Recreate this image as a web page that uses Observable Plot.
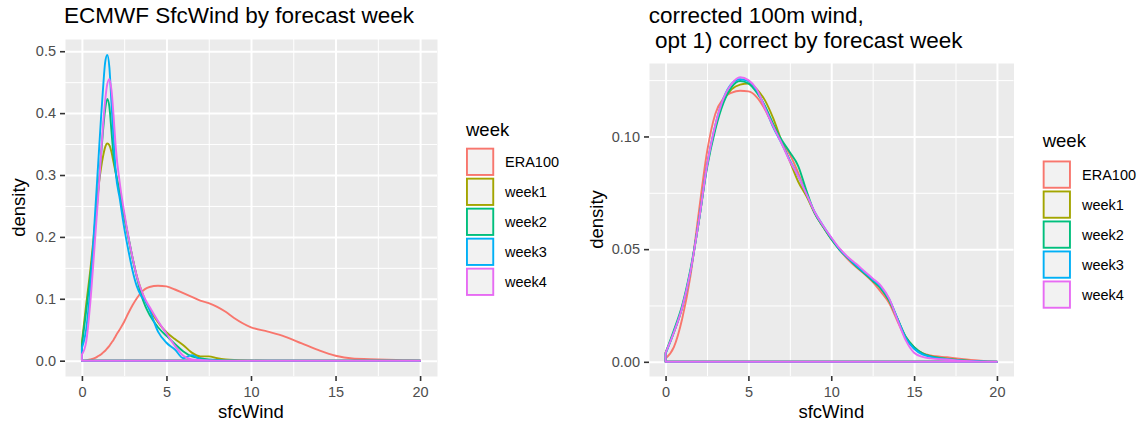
<!DOCTYPE html>
<html><head><meta charset="utf-8">
<script src="https://cdn.jsdelivr.net/npm/d3@7"></script>
<script src="https://cdn.jsdelivr.net/npm/@observablehq/plot@0.6"></script>
<style>
html,body{margin:0;padding:0;background:#fff;}
#wrap{position:relative;width:1138px;height:424px;overflow:hidden;font-family:"Liberation Sans",Arial,sans-serif;}
#wrap svg{position:absolute;top:0;}
</style></head><body><div id="wrap"></div>
<script>
const weeks = ["ERA100", "week1", "week2", "week3", "week4"];
const colors = ["#F8766D", "#A3A500", "#00BF7D", "#00B0F6", "#E76BF3"];

// Left panel: ECMWF SfcWind by forecast week
const leftTitle = "ECMWF SfcWind by forecast week";
const leftX = [0,0.25,0.5,0.75,1,1.125,1.25,1.375,1.5,1.625,1.75,1.875,2,2.25,2.5,2.75,3,3.25,3.5,3.75,4,4.5,5,5.5,6,6.5,7,7.5,8,8.5,9,10,11,12,13,14,15,16,17,18,19,20];
const leftERA100 = [0,0.0005,0.002,0.004,0.008,0.010,0.013,0.016,0.02,0.024,0.029,0.034,0.04,0.051,0.063,0.077,0.09,0.101,0.11,0.116,0.119,0.121,0.12,0.115,0.109,0.103,0.097,0.093,0.087,0.079,0.069,0.054,0.047,0.039,0.028,0.017,0.008,0.0035,0.0025,0.0015,0.0008,0.0003];
const leftWeek1 = [0.03,0.09,0.147,0.215,0.285,0.31,0.33,0.345,0.351,0.348,0.337,0.32,0.303,0.27,0.232,0.198,0.165,0.136,0.115,0.097,0.084,0.062,0.046,0.035,0.025,0.013,0.007,0.007,0.004,0.002,0.001,0.0003,0,0,0,0,0,0,0,0,0,0];
const leftWeek2 = [0.025,0.08,0.138,0.205,0.285,0.33,0.372,0.406,0.423,0.41,0.37,0.33,0.305,0.27,0.235,0.2,0.165,0.135,0.107,0.088,0.074,0.054,0.04,0.027,0.015,0.007,0.004,0.002,0.001,0.0005,0.0002,0,0,0,0,0,0,0,0,0,0,0];
const leftWeek3 = [0.02,0.05,0.12,0.225,0.335,0.39,0.44,0.482,0.494,0.474,0.415,0.357,0.305,0.26,0.215,0.178,0.145,0.12,0.105,0.096,0.082,0.047,0.029,0.018,0.004,0.009,0.002,0.0007,0.0003,0.0001,0,0,0,0,0,0,0,0,0,0,0,0];
const leftWeek4 = [0.01,0.03,0.095,0.185,0.28,0.33,0.38,0.42,0.447,0.455,0.437,0.395,0.345,0.285,0.24,0.2,0.166,0.136,0.115,0.099,0.087,0.064,0.044,0.024,0.008,0.002,0.001,0.0004,0.0001,0,0,0,0,0,0,0,0,0,0,0,0,0];
const leftYTicks = [0, 0.1, 0.2, 0.3, 0.4, 0.5];
const leftYMinor = [0.05, 0.15, 0.25, 0.35, 0.45];

// Right panel: corrected 100m wind
const rightTitle = ["corrected 100m wind,", " opt 1) correct by forecast week"];
const rightX = [0,0.5,1,1.5,2,2.5,3,3.5,4,4.5,5,5.5,6,6.5,7,7.5,8,8.5,9,9.5,10,10.5,11,11.5,12,12.5,13,13.5,14,14.5,15,15.5,16,17,18,19,20];
const rightERA100 = [0.0015,0.0065,0.019,0.038,0.066,0.093,0.11,0.117,0.1195,0.1203,0.12,0.1175,0.112,0.1045,0.098,0.092,0.084,0.0745,0.066,0.06,0.0545,0.0497,0.0455,0.042,0.039,0.0355,0.031,0.026,0.018,0.0105,0.006,0.0038,0.0028,0.002,0.0012,0.0005,0.0001];
const rightWeek1 = [0.004,0.013,0.024,0.04,0.062,0.087,0.104,0.116,0.121,0.123,0.1235,0.121,0.116,0.108,0.098,0.089,0.08,0.0735,0.066,0.06,0.0545,0.05,0.0462,0.0425,0.0393,0.036,0.0325,0.027,0.019,0.011,0.0065,0.0038,0.0025,0.0014,0.0006,0.0002,0];
const rightWeek2 = [0.004,0.014,0.025,0.041,0.062,0.086,0.103,0.115,0.122,0.1246,0.1235,0.1195,0.1135,0.1055,0.0985,0.093,0.087,0.076,0.066,0.06,0.0545,0.0497,0.046,0.0425,0.0393,0.036,0.0325,0.0272,0.019,0.011,0.0065,0.0038,0.0024,0.0013,0.0006,0.0002,0];
const rightWeek3 = [0.0035,0.013,0.024,0.04,0.062,0.087,0.105,0.117,0.1235,0.1254,0.1245,0.1205,0.113,0.104,0.097,0.0895,0.0825,0.0745,0.0665,0.0605,0.055,0.05,0.0462,0.0428,0.0397,0.0365,0.0332,0.0278,0.0192,0.0105,0.0058,0.0033,0.0022,0.0012,0.0005,0.0002,0];
const rightWeek4 = [0.004,0.013,0.024,0.04,0.062,0.087,0.105,0.117,0.1235,0.1263,0.125,0.121,0.1125,0.1045,0.097,0.089,0.0825,0.0745,0.0665,0.0605,0.0552,0.0503,0.0465,0.0435,0.0402,0.037,0.0337,0.028,0.0185,0.0095,0.004,0.0022,0.0015,0.001,0.0004,0.0001,0];
const rightYTicks = [0, 0.05, 0.1];
const rightYMinor = [0.025, 0.075, 0.125];

const xTicks = [0, 5, 10, 15, 20];
const xMinor = [2.5, 7.5, 12.5, 17.5];
const xLabel = "sfcWind";
const yLabel = "density";
const legendTitle = "week";

const FONT = '"Liberation Sans", Arial, sans-serif';

function toRows(xs, series) {
  const rows = [];
  weeks.forEach((w, i) => xs.forEach((x, j) => rows.push({week: w, x, d: series[i][j]})));
  return rows;
}

function panel({data, width, marginLeft, marginRight, marginTop, marginBottom, yDomain, yTicks, yMinor, yFormat}) {
  return Plot.plot({
    width, height: 424, marginLeft, marginRight, marginTop, marginBottom,
    style: {background: "transparent", fontFamily: FONT, overflow: "visible"},
    x: {domain: [-1, 21]},
    y: {domain: yDomain},
    color: {domain: weeks, range: colors},
    marks: [
      Plot.frame({fill: "#EBEBEB", stroke: "none"}),
      Plot.ruleX(xMinor, {stroke: "white", strokeWidth: 1}),
      Plot.ruleY(yMinor, {stroke: "white", strokeWidth: 1}),
      Plot.ruleX(xTicks, {stroke: "white", strokeWidth: 2}),
      Plot.ruleY(yTicks, {stroke: "white", strokeWidth: 2}),
      Plot.areaY(data, {x: "x", y1: 0, y2: "d", z: "week", stroke: "week", fill: "none",
        strokeWidth: 1.9, curve: "monotone-x", strokeLinejoin: "round"}),
      Plot.axisX(xTicks, {tickSize: 5, tickPadding: 5.5, fontSize: 14.5, fill: "#4D4D4D",
        stroke: "#333333", strokeWidth: 1.6, tickFormat: d3.format("d"), label: null}),
      Plot.axisY(yTicks, {tickSize: 5, tickPadding: 4.5, fontSize: 14.5, fill: "#4D4D4D",
        stroke: "#333333", strokeWidth: 1.6, tickFormat: d3.format(yFormat), label: null})
    ]
  });
}

const wrap = document.getElementById("wrap");

const left = panel({
  data: toRows(leftX, [leftERA100, leftWeek1, leftWeek2, leftWeek3, leftWeek4]),
  width: 460, marginLeft: 65, marginRight: 23, marginTop: 39, marginBottom: 48,
  yDomain: [-0.02475, 0.51975], yTicks: leftYTicks, yMinor: leftYMinor, yFormat: ".1f"
});
left.style.left = "0px";
wrap.appendChild(left);

const right = panel({
  data: toRows(rightX, [rightERA100, rightWeek1, rightWeek2, rightWeek3, rightWeek4]),
  width: 440, marginLeft: 69, marginRight: 6.5, marginTop: 63, marginBottom: 48,
  yDomain: [-0.0063, 0.1326], yTicks: rightYTicks, yMinor: rightYMinor, yFormat: ".2f"
});
right.style.left = "580px";
wrap.appendChild(right);

// Overlay for titles, axis titles and legends
const svg = d3.select(wrap).append("svg")
  .attr("width", 1138).attr("height", 424)
  .style("left", "0px").style("pointer-events", "none")
  .attr("font-family", FONT);

svg.append("text").attr("x", 64).attr("y", 23.3).attr("font-size", 22.5).attr("fill", "#000").text(leftTitle);
rightTitle.forEach((t, i) => {
  svg.append("text").attr("x", 648.7).attr("y", 23.3 + 25 * i).attr("font-size", 22.5)
    .attr("fill", "#000").style("white-space", "pre").attr("xml:space", "preserve").text(t);
});

// axis titles
[[251, 25.2, 207.5], [831.3, 602.5, 219.5]].forEach(([cx, yx, cy]) => {
  svg.append("text").attr("x", cx).attr("y", 418).attr("text-anchor", "middle")
    .attr("font-size", 18.5).attr("fill", "#000").text(xLabel);
  svg.append("text").attr("transform", `translate(${yx},${cy}) rotate(-90)`)
    .attr("text-anchor", "middle").attr("font-size", 18.5).attr("fill", "#000").text(yLabel);
});

// legends
function legend(x0, titleY, keyTop, labelX) {
  const g = svg.append("g");
  g.append("text").attr("x", x0).attr("y", titleY).attr("font-size", 18.5).attr("fill", "#000").text(legendTitle);
  weeks.forEach((w, i) => {
    const ty = keyTop + 30 * i;
    g.append("rect").attr("x", x0 + 0.95).attr("y", ty + 0.95).attr("width", 26.3).attr("height", 26.3)
      .attr("fill", "#F2F2F2").attr("stroke", colors[i]).attr("stroke-width", 1.9);
    g.append("text").attr("x", labelX).attr("y", ty + 14 + 5.2).attr("font-size", 14.5)
      .attr("fill", "#000").text(w);
  });
}
legend(466, 136, 147.7, 505);
legend(1042.7, 147, 160.5, 1082);
</script>
</body></html>
